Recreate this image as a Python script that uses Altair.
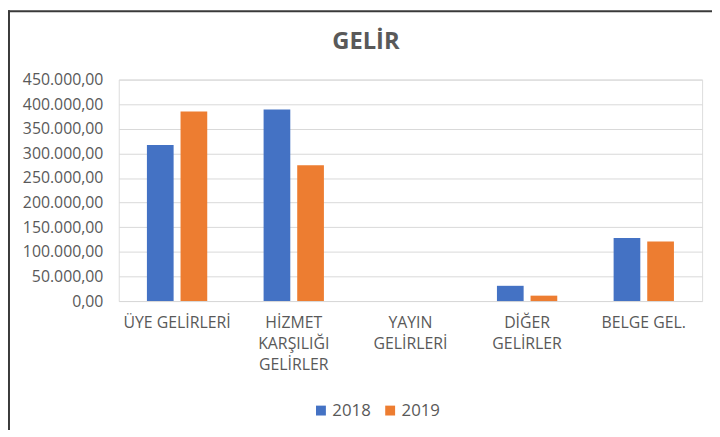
import altair as alt
import pandas as pd

# --- data ---
categories = ["ÜYE GELİRLERİ", "HİZMET|KARŞILIĞI|GELİRLER", "YAYIN|GELİRLERİ", "DİĞER|GELİRLER", "BELGE GEL."]
years = ["2018", "2019"]
values_2018 = [317000, 389000, 0, 31000, 128000]
values_2019 = [385000, 276000, 0, 11000, 121000]
y_ticks = [0, 50000, 100000, 150000, 200000, 250000, 300000, 350000, 400000, 450000]
colors = ["#4472C4", "#ED7D31"]
chart_title = "GELİR"

rows = []
for c, v18, v19 in zip(categories, values_2018, values_2019):
    rows.append({"kategori": c, "yil": "2018", "deger": v18})
    rows.append({"kategori": c, "yil": "2019", "deger": v19})
df = pd.DataFrame(rows)

FONT = "Open Sans"
GREY = "#595959"

bars = alt.Chart(df).mark_bar().encode(
    x=alt.X(
        "kategori:N",
        sort=categories,
        scale=alt.Scale(paddingInner=0, paddingOuter=0),
        axis=alt.Axis(
            title=None,
            labelAngle=0,
            domain=False,
            ticks=False,
            tickSize=0,
            labelPadding=14,
            labelBaseline="top",
            labelFont=FONT,
            labelFontSize=16,
            labelColor=GREY,
            labelLineHeight=21,
            labelExpr="split(datum.label, '|')",
        ),
    ),
    xOffset=alt.XOffset(
        "yil:N",
        sort=years,
        scale=alt.Scale(paddingInner=0.206, paddingOuter=0.838),
    ),
    y=alt.Y(
        "deger:Q",
        scale=alt.Scale(domain=[0, 450000], nice=False),
        axis=alt.Axis(
            title=None,
            values=y_ticks,
            domain=False,
            ticks=False,
            tickSize=0,
            labelPadding=16,
            labelFont=FONT,
            labelFontSize=16,
            labelColor=GREY,
            grid=True,
            gridColor="#D9D9D9",
            gridWidth=1,
            labelExpr="datum.value == 0 ? '0,00' : format(datum.value / 1000, 'd') + '.000,00'",
        ),
    ),
    color=alt.Color(
        "yil:N",
        sort=years,
        scale=alt.Scale(domain=years, range=colors),
        legend=alt.Legend(
            title=None,
            orient="none",
            direction="horizontal",
            legendX=196,
            legendY=326,
            padding=0,
            symbolType="square",
            symbolSize=100,
            symbolStrokeWidth=0,
            labelOffset=3,
            columnPadding=11,
            labelFont=FONT,
            labelFontSize=17,
            labelColor=GREY,
        ),
    ),
)

frame_df = pd.DataFrame({"k": [0]})
left_border = alt.Chart(frame_df).mark_rule(color="#3a3a3a", strokeWidth=2).encode(
    x=alt.value(-111), y=alt.value(-70), y2=alt.value(360)
)
top_border = alt.Chart(frame_df).mark_rule(color="#3a3a3a", strokeWidth=2).encode(
    x=alt.value(-112), x2=alt.value(600), y=alt.value(-69)
)
title_text = alt.Chart(pd.DataFrame({"t": [chart_title]})).mark_text(
    font=FONT, fontSize=24, fontWeight="bold", color=GREY,
    align="center", baseline="alphabetic",
).encode(text="t:N", x=alt.value(250), y=alt.value(-31))

chart = alt.layer(bars, left_border, top_border, title_text).properties(
    width=590,
    height=224,
    autosize=alt.AutoSizeParams(type="none"),
    padding={"left": 112, "top": 70, "right": 10, "bottom": 128},
).configure_view(stroke=None).configure(background="white")

chart.save("out.html", embed_options={"renderer": "svg", "actions": False})
